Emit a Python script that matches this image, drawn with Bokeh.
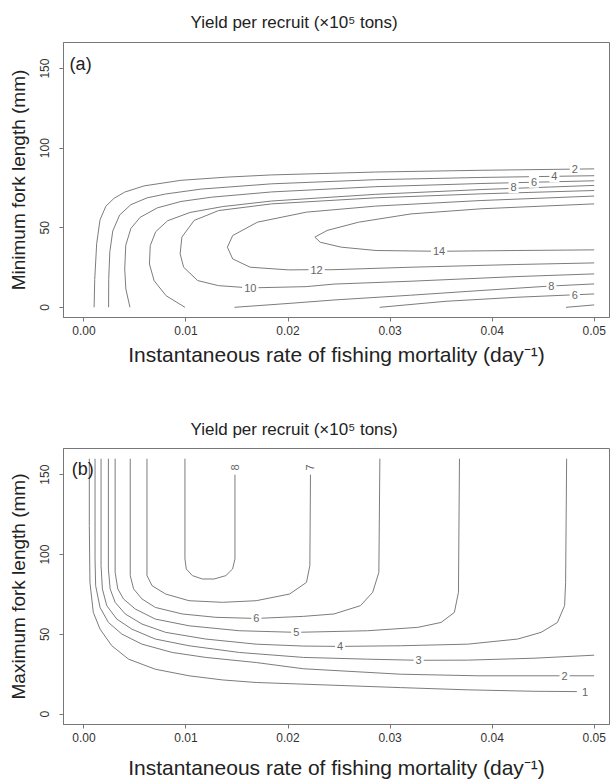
import math
from bokeh.plotting import figure
from bokeh.models import Range1d, FixedTicker, PrintfTickFormatter, Label, Title
from bokeh.layouts import column
from bokeh.embed import file_html
from bokeh.resources import INLINE
from bokeh.core.properties import value

# ---------------- axis ticks ----------------
x_ticks = [0.00, 0.01, 0.02, 0.03, 0.04, 0.05]
y_ticks = [0, 50, 100, 150]

# ---------------- panel (a): minimum fork length ----------------
a_l2_x = [0.001, 0.00106, 0.00125, 0.00158, 0.00215, 0.00295, 0.0040, 0.0059, 0.0095, 0.0140, 0.0184, 0.0286, 0.0389, 0.0500]
a_l2_y = [0, 17.5, 40, 55, 63.5, 68.5, 72.4, 76.3, 79.8, 81.8, 83.2, 85.0, 86.1, 87.0]
a_l4_x = [0.00242, 0.00243, 0.00254, 0.00283, 0.0035, 0.0046, 0.0062, 0.0080, 0.0115, 0.0184, 0.0286, 0.0389, 0.0500]
a_l4_y = [0, 17.5, 35, 48, 58, 64.5, 68.8, 71.2, 74.3, 77.6, 80.2, 81.6, 82.7]
a_l6_x = [0.00451, 0.00411, 0.0040, 0.0041, 0.0046, 0.0055, 0.0072, 0.0095, 0.0125, 0.0184, 0.0286, 0.0389, 0.0500]
a_l6_y = [0, 11.5, 24, 39, 49.5, 56.5, 62.5, 66.5, 69.2, 72.5, 75.8, 77.8, 79.5]
a_l8u_x = [0.0099, 0.00805, 0.00688, 0.00642, 0.0065, 0.00703, 0.0082, 0.0104, 0.0136, 0.0184, 0.0286, 0.0389, 0.0500]
a_l8u_y = [0, 7.3, 16.7, 27.2, 38.7, 47.5, 54.4, 59.6, 63.3, 66.8, 71.0, 74.0, 76.6]
a_l10_x = [0.0500, 0.0389, 0.0286, 0.0184, 0.0132, 0.0108, 0.0096, 0.00943, 0.00977, 0.01115, 0.0132, 0.01629, 0.02178, 0.0245, 0.03206, 0.04235, 0.0500]
a_l10_y = [73.4, 71.3, 68.8, 65.0, 60.8, 54.6, 44.1, 33.6, 25.2, 16.8, 13.6, 12.2, 13.0, 14.6, 16.4, 19.3, 21.0]
a_l12_x = [0.0500, 0.0389, 0.0286, 0.0218, 0.0170, 0.01458, 0.01406, 0.01458, 0.01629, 0.02006, 0.0228, 0.0242, 0.03206, 0.04235, 0.0500]
a_l12_y = [69.9, 67.1, 63.6, 59.8, 53.5, 45.1, 37.8, 30.4, 25.2, 23.5, 23.7, 23.6, 25.2, 26.9, 27.9]
a_l14_x = [0.0500, 0.0389, 0.03206, 0.02692, 0.02383, 0.02263, 0.02315, 0.02521, 0.02863, 0.03481, 0.04235, 0.0500]
a_l14_y = [65.0, 61.9, 58.7, 53.5, 48.3, 44.1, 40.9, 37.8, 35.7, 35.2, 35.7, 36.1]
a_l8l_x = [0.01475, 0.0202, 0.0245, 0.0320, 0.0390, 0.0458, 0.0500]
a_l8l_y = [0, 2.5, 4.6, 7.6, 10.6, 13.4, 14.7]
a_l6l_x = [0.02898, 0.03549, 0.04235, 0.0500]
a_l6l_y = [0, 3.8, 6.3, 8.4]
a_l4l_x = [0.04724, 0.0500]
a_l4l_y = [0, 1.5]

a_lab_text = ["2", "4", "6", "8", "14", "12", "10", "8", "6"]
a_lab_x = [0.0481, 0.0461, 0.0441, 0.0421, 0.0348, 0.0228, 0.0163, 0.0458, 0.0481]
a_lab_y = [86.9, 82.4, 78.9, 75.4, 35.2, 23.7, 12.2, 13.4, 7.8]

# ---------------- panel (b): maximum fork length ----------------
b_l1_x = [0.00053, 0.00053, 0.00059, 0.00092, 0.00158, 0.00273, 0.00438, 0.0070, 0.0103, 0.01359, 0.01688, 0.0213, 0.0310, 0.0376, 0.0441, 0.0483]
b_l1_y = [160, 118.2, 82.6, 63.8, 53.3, 42.9, 34.5, 28.2, 24.1, 21.5, 19.9, 18.9, 16.7, 15.3, 14.4, 14.2]
b_l2_x = [0.00109, 0.00109, 0.00115, 0.00158, 0.0024, 0.00372, 0.00569, 0.00865, 0.01194, 0.01688, 0.0215, 0.0310, 0.0386, 0.0500]
b_l2_y = [160, 97.3, 80.5, 66.9, 57.5, 50.2, 43.9, 38.7, 35.6, 32.4, 28.5, 25.1, 24.1, 24.1]
b_l3_x = [0.00168, 0.00168, 0.00181, 0.00224, 0.00322, 0.0047, 0.0070, 0.0103, 0.01523, 0.0215, 0.0278, 0.0328, 0.0376, 0.0441, 0.0500]
b_l3_y = [160, 93.1, 78.5, 68.0, 59.6, 53.3, 47.1, 42.9, 38.7, 35.6, 34.5, 33.8, 33.9, 35.1, 37.0]
b_l4_x = [0.0024, 0.0024, 0.00257, 0.00306, 0.00405, 0.00569, 0.0080, 0.01194, 0.01688, 0.0215, 0.0251, 0.0310, 0.0376, 0.0425, 0.0448, 0.0464, 0.0471, 0.0472, 0.0473]
b_l4_y = [160, 91.0, 78.5, 70.1, 62.8, 56.5, 51.3, 47.1, 43.9, 42.7, 42.5, 42.9, 43.9, 47.1, 51.3, 57.5, 68.0, 82.6, 160]
b_l5_x = [0.00306, 0.00306, 0.00332, 0.00388, 0.00503, 0.0070, 0.0103, 0.01523, 0.0208, 0.0278, 0.0327, 0.0350, 0.0363, 0.0367, 0.0368]
b_l5_y = [160, 88.9, 78.5, 72.2, 65.9, 59.6, 55.4, 52.3, 51.3, 52.3, 54.4, 57.5, 63.8, 76.4, 160]
b_l6_x = [0.00454, 0.00454, 0.00487, 0.00569, 0.0070, 0.00964, 0.01293, 0.01688, 0.0215, 0.0245, 0.0271, 0.0283, 0.0289, 0.0290]
b_l6_y = [160, 86.8, 78.5, 72.2, 66.9, 62.8, 60.7, 60.0, 61.3, 62.8, 68.0, 76.4, 88.9, 160]
b_l7_x = [0.00618, 0.00618, 0.00668, 0.0080, 0.0103, 0.01359, 0.01688, 0.02016, 0.02181, 0.02214, 0.0222]
b_l7_y = [160, 86.8, 80.5, 75.3, 71.1, 70.1, 71.1, 75.3, 82.6, 93.1, 150]
b_l8_x = [0.0099, 0.0099, 0.01003, 0.01063, 0.01161, 0.01276, 0.01391, 0.01457, 0.0148, 0.0148]
b_l8_y = [160, 97.3, 91.0, 86.8, 84.7, 84.7, 86.8, 91.0, 97.3, 150]

b_lab_text = ["1", "2", "3", "4", "5", "6"]
b_lab_x = [0.0491, 0.0471, 0.0328, 0.0251, 0.0208, 0.0169]
b_lab_y = [14.2, 24.1, 33.8, 42.5, 51.3, 60.0]
b_vlab_text = ["8", "7"]
b_vlab_x = [0.0148, 0.0222]
b_vlab_y = [154.5, 154.5]

# ---------------- texts ----------------
title_text = "Yield per recruit (\u00d710\u2075 tons)"
x_title = "Instantaneous rate of fishing mortality (day\u207b\u00b9)"
y_title_a = "Minimum fork length (mm)"
y_title_b = "Maximum fork length (mm)"

FONT = "Liberation Sans"
AX = "#777777"
LINE = "#7c7c7c"
LABC = "#666666"


def make_fig(height, top, bottom, ylab, label_std, title_standoff):
    p = figure(width=611, height=height, output_backend="svg", toolbar_location=None,
               x_range=Range1d(-0.002, 0.0515), y_range=Range1d(-6.4, 166.4),
               min_border_left=63, min_border_right=2, min_border_top=top,
               min_border_bottom=bottom)
    p.background_fill_color = "white"
    p.border_fill_color = "white"
    p.outline_line_color = AX
    p.outline_line_width = 1
    p.xgrid.visible = False
    p.ygrid.visible = False
    p.xaxis.ticker = FixedTicker(ticks=x_ticks)
    p.xaxis.formatter = PrintfTickFormatter(format="%.2f")
    p.yaxis.ticker = FixedTicker(ticks=y_ticks)
    p.xaxis.axis_label = x_title
    p.yaxis.axis_label = ylab
    for ax in (p.xaxis[0], p.yaxis[0]):
        ax.axis_line_color = AX
        ax.major_tick_line_color = AX
        ax.minor_tick_line_color = None
        ax.major_tick_in = 0
        ax.major_tick_out = 4
        ax.major_label_text_font = FONT
        ax.major_label_text_font_size = "12px"
        ax.major_label_text_color = "#333333"
        ax.axis_label_text_font = FONT
        ax.axis_label_text_font_style = "normal"
        ax.axis_label_text_color = "#222222"
    p.xaxis.axis_label_text_font_size = "21px"
    p.yaxis.axis_label_text_font_size = "19px"
    p.xaxis.major_label_standoff = 4
    p.xaxis.axis_label_standoff = label_std
    p.yaxis.major_label_orientation = "vertical"
    p.yaxis.major_label_standoff = 10
    p.yaxis.axis_label_standoff = 9
    p.add_layout(Title(text=title_text, align="left", offset=127, standoff=title_standoff,
                       text_font=FONT, text_font_size="17px", text_font_style="normal",
                       text_color="#222222"), "above")
    return p


def add_labels(p, xs, ys, texts, angle=0.0):
    p.text(x=xs, y=ys, text=texts, angle=angle, text_align="center", text_baseline="middle",
           text_font=value(FONT), text_font_size="11px", text_color=LABC,
           background_fill_color="white", padding=2)


# ---------- top figure ----------
p1 = make_fig(385, 41, 68, y_title_a, 5, 21)
p1.multi_line(xs=[a_l2_x, a_l4_x, a_l6_x, a_l8u_x, a_l10_x, a_l12_x, a_l14_x, a_l8l_x, a_l6l_x, a_l4l_x],
              ys=[a_l2_y, a_l4_y, a_l6_y, a_l8u_y, a_l10_y, a_l12_y, a_l14_y, a_l8l_y, a_l6l_y, a_l4l_y],
              line_color=LINE, line_width=1)
add_labels(p1, a_lab_x, a_lab_y, a_lab_text)
p1.add_layout(Label(x=-0.0014, y=153, text="(a)", text_font=FONT, text_font_size="18px",
                    text_color="#222222", text_baseline="middle", text_align="left"))

# ---------- bottom figure ----------
p2 = make_fig(397, 63, 58, y_title_b, 11, 20)
p2.multi_line(xs=[b_l1_x, b_l2_x, b_l3_x, b_l4_x, b_l5_x, b_l6_x, b_l7_x, b_l8_x],
              ys=[b_l1_y, b_l2_y, b_l3_y, b_l4_y, b_l5_y, b_l6_y, b_l7_y, b_l8_y],
              line_color=LINE, line_width=1)
add_labels(p2, b_lab_x, b_lab_y, b_lab_text)
add_labels(p2, b_vlab_x, b_vlab_y, b_vlab_text, angle=math.pi / 2)
p2.add_layout(Label(x=-0.0012, y=153.7, text="(b)", text_font=FONT, text_font_size="18px",
                    text_color="#222222", text_baseline="middle", text_align="left"))

layout = column(p1, p2, spacing=0)
open("out.html", "w").write(file_html(layout, INLINE))
